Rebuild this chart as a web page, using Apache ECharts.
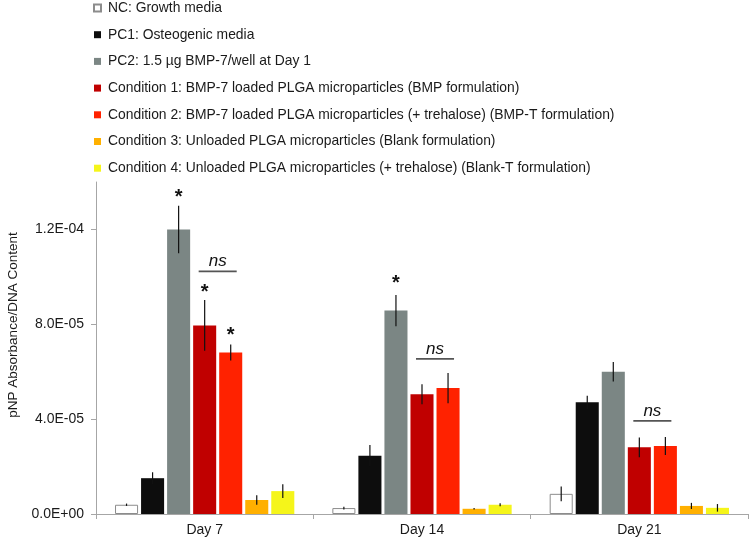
<!DOCTYPE html>
<html><head><meta charset="utf-8">
<script src="https://cdn.jsdelivr.net/npm/echarts@6/dist/echarts.min.js"></script>
<style>html,body{margin:0;padding:0;background:#fff}#c{width:750px;height:541px}</style>
</head><body><div id="c"></div>
<script>
const categories = ['Day 7', 'Day 14', 'Day 21'];
const seriesNames = [
  'NC: Growth media',
  'PC1: Osteogenic media',
  'PC2: 1.5 µg BMP-7/well at Day 1',
  'Condition 1: BMP-7 loaded PLGA microparticles (BMP formulation)',
  'Condition 2: BMP-7 loaded PLGA microparticles (+ trehalose) (BMP-T formulation)',
  'Condition 3: Unloaded PLGA microparticles (Blank formulation)',
  'Condition 4: Unloaded PLGA microparticles (+ trehalose) (Blank-T formulation)'
];
const ncValues  = [3.9e-6, 2.5e-6, 8.5e-6];
const pc1Values = [1.51e-5, 2.46e-5, 4.71e-5];
const pc2Values = [1.20e-4, 8.58e-5, 6.00e-5];
const c1Values  = [7.95e-5, 5.05e-5, 2.81e-5];
const c2Values  = [6.81e-5, 5.31e-5, 2.87e-5];
const c3Values  = [5.9e-6, 2.2e-6, 3.4e-6];
const c4Values  = [9.65e-6, 3.9e-6, 2.6e-6];
const ncErr  = [0.5e-6, 0.55e-6, 3.1e-6];
const pc1Err = [2.5e-6, 4.5e-6, 2.8e-6];
const pc2Err = [1.0e-5, 6.6e-6, 4.1e-6];
const c1Err  = [1.07e-5, 4.2e-6, 4.2e-6];
const c2Err  = [3.4e-6, 6.4e-6, 3.8e-6];
const c3Err  = [2.0e-6, 0.3e-6, 1.3e-6];
const c4Err  = [2.9e-6, 0.6e-6, 1.6e-6];
const yTickValues = [0, 4e-5, 8e-5, 1.2e-4];
const yTickLabels = ['0.0E+00', '4.0E-05', '8.0E-05', '1.2E-04'];
// significance annotations
const starCats   = [0, 0, 0, 1];
const starSeries = [2, 3, 4, 2];
const starValues = [1.355e-4, 9.55e-5, 7.75e-5, 9.95e-5];
const nsCats   = [0, 1, 2];
const nsValues = [1.023e-4, 6.54e-5, 3.93e-5];

const allValues = [ncValues, pc1Values, pc2Values, c1Values, c2Values, c3Values, c4Values];
const allErr = [ncErr, pc1Err, pc2Err, c1Err, c2Err, c3Err, c4Err];
const colors = ['#ffffff', '#0d0d0d', '#7b8684', '#c00000', '#ff2200', '#ffb000', '#f5f51a'];

const N = 7, CAT_GAP = 0.175, BAR_GAP = 0.13;
function barCenterX(api, cat, s) {
  const base = api.coord([cat, 0]);
  const bandW = api.size([1, 0])[0];
  const usable = bandW * (1 - CAT_GAP);
  const bw = usable / (N + (N - 1) * BAR_GAP);
  const total = bw * N + bw * BAR_GAP * (N - 1);
  return base[0] - total / 2 + s * bw * (1 + BAR_GAP) + bw / 2;
}

const FONT = "'Liberation Sans', Arial, sans-serif";
const series = seriesNames.map((name, i) => ({
  name, type: 'bar', data: allValues[i],
  barCategoryGap: (CAT_GAP * 100) + '%', barGap: (BAR_GAP * 100) + '%',
  itemStyle: i === 0 ? { color: '#ffffff', borderColor: '#8c8c8c', borderWidth: 1 } : { color: colors[i] },
  emphasis: { disabled: true }, animation: false
}));

const errData = [];
allValues.forEach((vals, s) => vals.forEach((v, c) => errData.push([c, v, allErr[s][c], s])));
series.push({
  name: 'errorbars', type: 'custom', data: errData, encode: { x: 0, y: 1 }, z: 10, animation: false,
  renderItem: (params, api) => {
    const c = api.value(0), v = api.value(1), e = api.value(2), s = api.value(3);
    const x = barCenterX(api, c, s);
    const top = api.coord([c, v + e])[1], bot = api.coord([c, v - e])[1];
    return { type: 'line', shape: { x1: x, y1: top, x2: x, y2: bot }, style: { stroke: '#111', lineWidth: 1.2 } };
  }
});
series.push({
  name: 'stars', type: 'custom', data: starCats.map((c, i) => [c, starValues[i], starSeries[i]]),
  encode: { x: 0, y: 1 }, z: 11, animation: false,
  renderItem: (params, api) => {
    const c = api.value(0), v = api.value(1), s = api.value(2);
    const x = barCenterX(api, c, s);
    const y = api.coord([c, v])[1];
    return { type: 'text', x: x, y: y + 5, style: { text: '*', fill: '#111', font: "bold 20px " + FONT, align: 'center', verticalAlign: 'middle' } };
  }
});
series.push({
  name: 'ns', type: 'custom', data: nsCats.map((c, i) => [c, nsValues[i]]),
  encode: { x: 0, y: 1 }, z: 11, animation: false,
  renderItem: (params, api) => {
    const c = api.value(0), v = api.value(1);
    const x1 = barCenterX(api, c, 3) - 6, x2 = barCenterX(api, c, 4) + 6;
    const y = api.coord([c, v])[1];
    return { type: 'group', children: [
      { type: 'line', shape: { x1: x1, y1: y, x2: x2, y2: y }, style: { stroke: '#555', lineWidth: 1.8 } },
      { type: 'text', x: (x1 + x2) / 2, y: y - 10, style: { text: 'ns', fill: '#111', font: "italic 17px " + FONT, align: 'center', verticalAlign: 'middle' } }
    ] };
  }
});

const chart = echarts.init(document.getElementById('c'), null, { renderer: 'canvas' });
chart.setOption({
  animation: false,
  backgroundColor: '#fff',
  textStyle: { fontFamily: FONT },
  legend: {
    data: seriesNames, orient: 'vertical', left: 88, top: -4,
    icon: 'rect', itemWidth: 7, itemHeight: 7, itemGap: 12.7,
    selectedMode: false,
    textStyle: { fontFamily: FONT, fontSize: 13.86, color: '#1a1a1a', lineHeight: 14, padding: [0, 0, 0, 2] }
  },
  grid: { left: 96, right: 2, top: 182, bottom: 27, containLabel: false, outerBoundsMode: 'none' },
  xAxis: {
    type: 'category', data: categories,
    axisLine: { lineStyle: { color: '#a6a6a6', width: 1 } },
    axisTick: { show: true, length: 5, lineStyle: { color: '#a6a6a6' } },
    axisLabel: { fontFamily: FONT, fontSize: 14, color: '#1a1a1a', margin: 9 },
    splitLine: { show: false }
  },
  yAxis: {
    type: 'value', min: 0, max: 1.4e-4, interval: 4e-5,
    name: 'pNP Absorbance/DNA Content', nameLocation: 'middle', nameRotate: 90, nameGap: 75,
    nameTextStyle: { fontFamily: FONT, fontSize: 13.5, color: '#1a1a1a', padding: [0, 0, 0, 46] },
    axisLine: { show: true, lineStyle: { color: '#a6a6a6', width: 1 } },
    axisTick: { show: true, length: 5, inside: false, lineStyle: { color: '#a6a6a6' }, customValues: yTickValues },
    axisLabel: {
      fontFamily: FONT, fontSize: 14, color: '#1a1a1a', margin: 12, customValues: yTickValues,
      formatter: (v) => {
        let best = 0;
        yTickValues.forEach((t, i) => { if (Math.abs(t - v) < Math.abs(yTickValues[best] - v)) best = i; });
        return yTickLabels[best];
      }
    },
    splitLine: { show: false }
  },
  tooltip: { show: false },
  series
});
</script></body></html>
